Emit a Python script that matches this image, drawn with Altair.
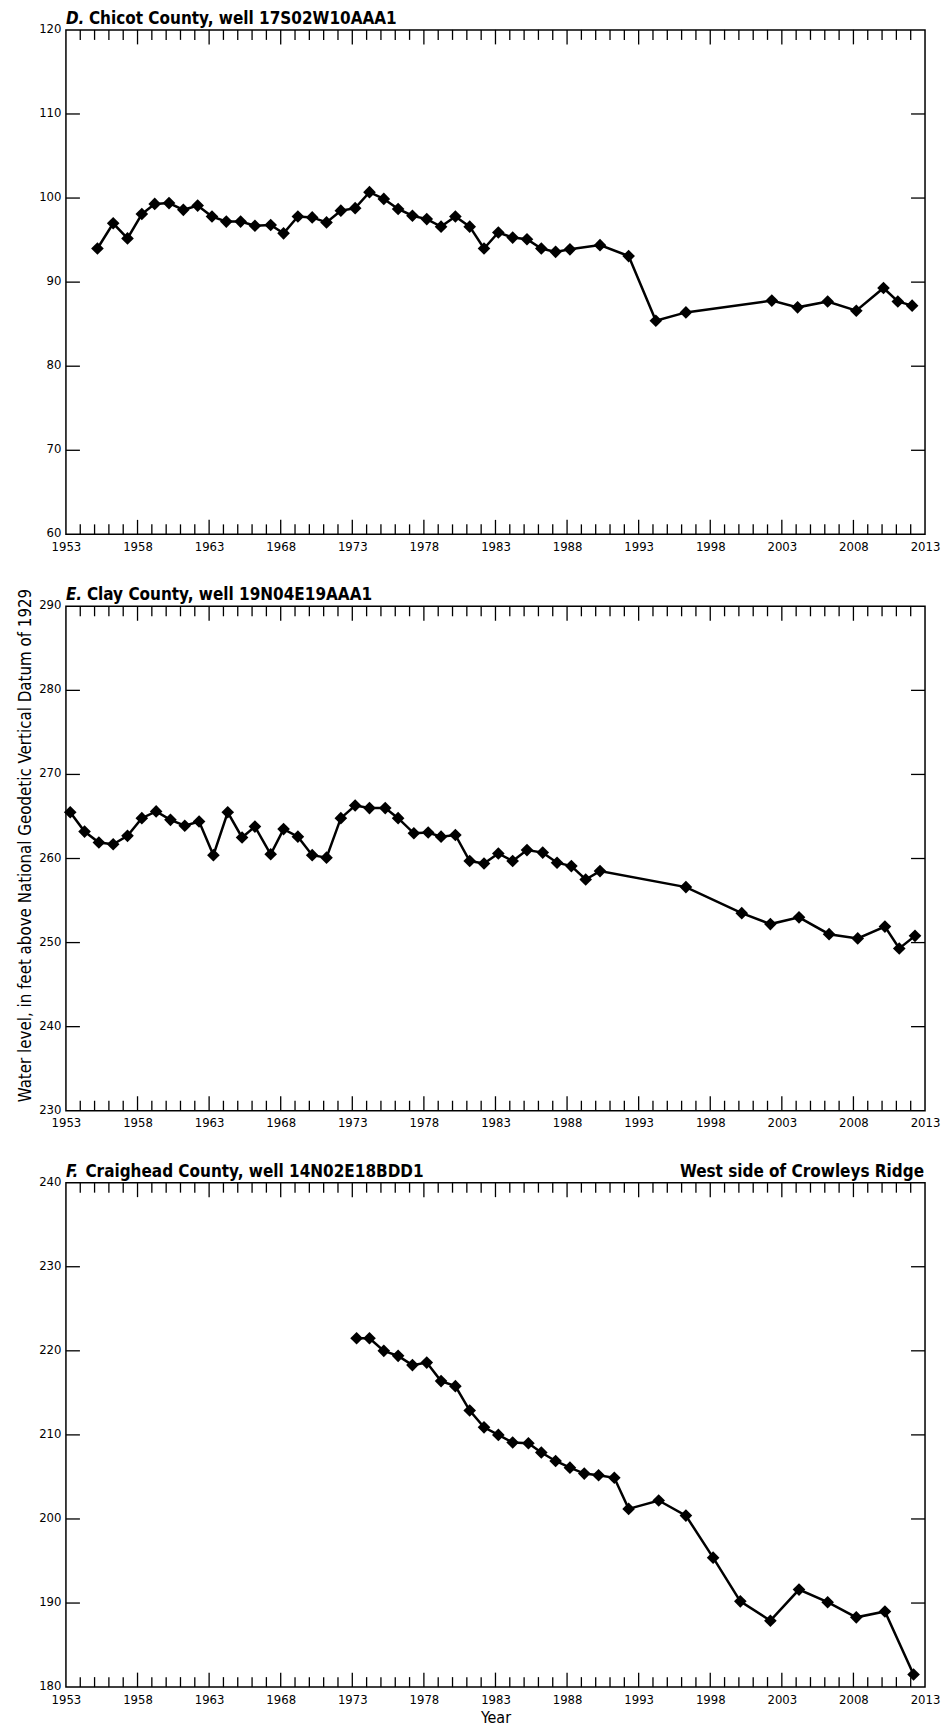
import altair as alt
import pandas as pd

FONT = "DejaVu Sans Condensed, DejaVu Sans, sans-serif"

# ---- data ----
D_years = [1955.2, 1956.3, 1957.3, 1958.3, 1959.2, 1960.2, 1961.2, 1962.2, 1963.2, 1964.2,
           1965.2, 1966.2, 1967.3, 1968.2, 1969.2, 1970.2, 1971.2, 1972.2, 1973.2, 1974.2,
           1975.2, 1976.2, 1977.2, 1978.2, 1979.2, 1980.2, 1981.2, 1982.2, 1983.2, 1984.2,
           1985.2, 1986.2, 1987.2, 1988.2, 1990.3, 1992.3, 1994.2, 1996.3, 2002.3, 2004.1,
           2006.2, 2008.2, 2010.1, 2011.1, 2012.1]
D_levels = [94.0, 97.0, 95.2, 98.1, 99.3, 99.4, 98.6, 99.1, 97.8, 97.2,
            97.2, 96.7, 96.8, 95.8, 97.8, 97.7, 97.1, 98.5, 98.8, 100.7,
            99.9, 98.7, 97.9, 97.5, 96.6, 97.8, 96.6, 94.0, 95.9, 95.3,
            95.1, 94.0, 93.6, 93.9, 94.4, 93.1, 85.4, 86.4, 87.8, 87.0,
            87.7, 86.6, 89.3, 87.7, 87.2]

E_years = [1953.3, 1954.3, 1955.3, 1956.3, 1957.3, 1958.3, 1959.3, 1960.3, 1961.3, 1962.3,
           1963.3, 1964.3, 1965.3, 1966.2, 1967.3, 1968.2, 1969.2, 1970.2, 1971.2, 1972.2,
           1973.2, 1974.2, 1975.3, 1976.2, 1977.3, 1978.3, 1979.2, 1980.2, 1981.2, 1982.2,
           1983.2, 1984.2, 1985.2, 1986.3, 1987.3, 1988.3, 1989.3, 1990.3, 1996.3, 2000.2,
           2002.2, 2004.2, 2006.3, 2008.3, 2010.2, 2011.2, 2012.3]
E_levels = [265.5, 263.2, 261.9, 261.7, 262.7, 264.8, 265.6, 264.6, 263.9, 264.4,
            260.4, 265.5, 262.5, 263.8, 260.5, 263.5, 262.6, 260.4, 260.1, 264.8,
            266.3, 266.0, 266.0, 264.8, 263.0, 263.1, 262.6, 262.8, 259.7, 259.4,
            260.6, 259.7, 261.0, 260.7, 259.5, 259.1, 257.5, 258.5, 256.6, 253.5,
            252.2, 253.0, 251.0, 250.5, 251.9, 249.3, 250.8]

F_years = [1973.3, 1974.2, 1975.2, 1976.2, 1977.2, 1978.2, 1979.2, 1980.2, 1981.2, 1982.2,
           1983.2, 1984.2, 1985.3, 1986.2, 1987.2, 1988.2, 1989.2, 1990.2, 1991.3, 1992.3,
           1994.4, 1996.3, 1998.2, 2000.1, 2002.2, 2004.2, 2006.2, 2008.2, 2010.2, 2012.2]
F_levels = [221.5, 221.5, 220.0, 219.4, 218.3, 218.6, 216.4, 215.8, 212.9, 210.9,
            210.0, 209.1, 209.0, 207.9, 206.9, 206.1, 205.4, 205.2, 204.9, 201.2,
            202.2, 200.4, 195.4, 190.2, 187.9, 191.6, 190.1, 188.3, 189.0, 181.5]

X_LABELS = [1953, 1958, 1963, 1968, 1973, 1978, 1983, 1988, 1993, 1998, 2003, 2008, 2013]
MAJOR_TICKS = [1958, 1963, 1968, 1973, 1978, 1983, 1988, 1993, 1998, 2003, 2008]
MINOR_TICKS = [y for y in range(1954, 2013) if y not in MAJOR_TICKS]

Y_TITLE = "Water level, in feet above National Geodetic Vertical Datum of 1929"

W, H = 860, 505
LABEL_SIZE = 13
TITLE_SIZE = 17


def panel(years, levels, ylo, yhi, letter, name, title_dx, right_text=None,
          ytitle=None, xtitle=None):
    df = pd.DataFrame({"year": years, "level": levels})
    xscale = alt.Scale(domain=[1953, 2013], nice=False, zero=False)
    yscale = alt.Scale(domain=[ylo, yhi], nice=False, zero=False)
    common = dict(ticks=False, domain=False, grid=False, labelFont=FONT,
                  labelFontSize=LABEL_SIZE, labelColor="black")
    if xtitle:
        xaxis = alt.Axis(values=X_LABELS, format="d", labelFlush=False, labelOverlap=False,
                         labelPadding=6, title=xtitle, titleFont=FONT, titleFontSize=16,
                         titleFontWeight="normal", titleColor="black", titlePadding=3,
                         **common)
    else:
        xaxis = alt.Axis(values=X_LABELS, format="d", labelFlush=False, labelOverlap=False,
                         labelPadding=6, title=None, **common)
    yvals = list(range(ylo, yhi + 1, 10))
    if ytitle:
        yaxis = alt.Axis(values=yvals, labelPadding=5, labelOffset=-1.5, title=ytitle,
                         titleFont=FONT, titleFontSize=16.8, titleFontWeight="normal",
                         titleColor="black", titlePadding=4, titleY=239, **common)
    else:
        yaxis = alt.Axis(values=yvals, labelPadding=5, labelOffset=-1.5, title=None,
                         **common)

    x = alt.X("year:Q", scale=xscale, axis=xaxis)
    y = alt.Y("level:Q", scale=yscale, axis=yaxis)

    line = alt.Chart(df).mark_line(
        color="black", strokeWidth=2.5,
        point=alt.OverlayMarkDef(shape="diamond", filled=True, size=160, color="black",
                                 opacity=1)
    ).encode(x=x, y=y)

    minor_df = pd.DataFrame({"year": MINOR_TICKS})
    major_df = pd.DataFrame({"year": MAJOR_TICKS})
    ytick_df = pd.DataFrame({"level": yvals[1:-1]})
    rule = dict(color="black", strokeWidth=1.3)

    layers = [
        line,
        alt.Chart(minor_df).mark_rule(**rule).encode(x=x, y=alt.value(H - 10), y2=alt.value(H)),
        alt.Chart(major_df).mark_rule(**rule).encode(x=x, y=alt.value(H - 14.5), y2=alt.value(H)),
        alt.Chart(minor_df).mark_rule(**rule).encode(x=x, y=alt.value(0), y2=alt.value(10)),
        alt.Chart(major_df).mark_rule(**rule).encode(x=x, y=alt.value(0), y2=alt.value(14.5)),
        alt.Chart(ytick_df).mark_rule(**rule).encode(y=y, x=alt.value(0), x2=alt.value(14)),
        alt.Chart(ytick_df).mark_rule(**rule).encode(y=y, x=alt.value(W - 14), x2=alt.value(W)),
        alt.Chart(pd.DataFrame({"t": [letter]})).mark_text(
            font=FONT, fontSize=TITLE_SIZE, fontWeight="bold", fontStyle="italic",
            align="left", baseline="alphabetic", color="black"
        ).encode(x=alt.value(0), y=alt.value(-6), text="t:N"),
        alt.Chart(pd.DataFrame({"t": [name]})).mark_text(
            font=FONT, fontSize=TITLE_SIZE, fontWeight="bold",
            align="left", baseline="alphabetic", color="black"
        ).encode(x=alt.value(title_dx), y=alt.value(-6), text="t:N"),
    ]
    if right_text:
        layers.append(
            alt.Chart(pd.DataFrame({"t": [right_text]})).mark_text(
                font=FONT, fontSize=TITLE_SIZE, fontWeight="bold",
                align="right", baseline="alphabetic", color="black"
            ).encode(x=alt.value(W - 1), y=alt.value(-6), text="t:N")
        )
    return alt.layer(*layers).properties(width=W, height=H)


pD = panel(D_years, D_levels, 60, 120, "D.", "Chicot County, well 17S02W10AAA1", 23)
pE = panel(E_years, E_levels, 230, 290, "E.", "Clay County, well 19N04E19AAA1", 21,
           ytitle=Y_TITLE)
pF = panel(F_years, F_levels, 180, 240, "F.", "Craighead County, well 14N02E18BDD1", 19.5,
           right_text="West side of Crowleys Ridge", xtitle="Year")

chart = alt.vconcat(pD, pE, pF, spacing=31).configure_view(
    stroke="black", strokeWidth=1.5
).properties(
    padding={"left": 8, "top": 0, "right": 0, "bottom": 0},
    background="white",
)

chart.save("out.html", embed_options={"renderer": "svg", "actions": False})
